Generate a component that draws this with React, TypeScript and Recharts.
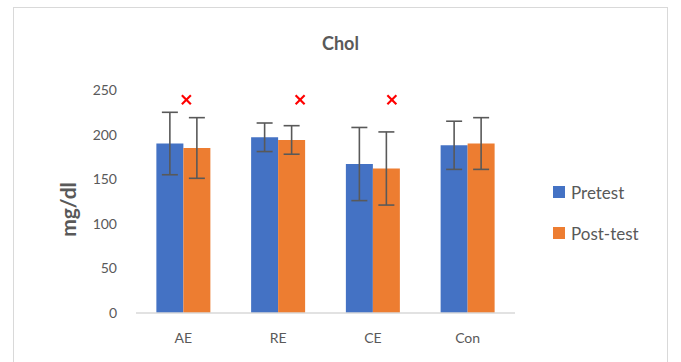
import React from 'react';
import {
  ComposedChart, Bar, ErrorBar, Scatter, XAxis, YAxis,
} from 'recharts';

const groups = ['AE', 'RE', 'CE', 'Con'];
const pretest = [190, 197, 167, 188];
const pretestSd = [35, 16, 41, 27];
const posttest = [185, 194, 162, 190];
const posttestSd = [34, 16, 41, 29];
// significance markers (null = none)
const marks = [239, 239, 239, null];
const yTicks = [0, 50, 100, 150, 200, 250];

// horizontal nudge for each marker, px
const markerNudge: Record<string, number> = { AE: 3, RE: 22, CE: 19, Con: 0 };

const data = groups.map((g, i) => ({
  group: g,
  pre: pretest[i],
  preErr: pretestSd[i],
  post: posttest[i],
  postErr: posttestSd[i],
  mark: marks[i],
}));

const FONT = 'Lato, "Open Sans", sans-serif';
const GREY = '#595959';

function Cross(props: any) {
  const { cx, cy, payload } = props;
  if (cx == null || cy == null || payload?.mark == null) return null;
  const x = cx + (markerNudge[payload.group] ?? 0);
  const s = 4.5;
  return (
    <g stroke="#ff0000" strokeWidth={2.2}>
      <line x1={x - s} y1={cy - s} x2={x + s} y2={cy + s} />
      <line x1={x - s} y1={cy + s} x2={x + s} y2={cy - s} />
    </g>
  );
}

function LegendBox() {
  const items = [
    { label: 'Pretest', color: '#4472c4' },
    { label: 'Post-test', color: '#ed7d31' },
  ];
  return (
    <div style={{ position: 'absolute', left: 553, top: 181, fontFamily: FONT }}>
      {items.map((it, i) => (
        <div key={it.label} style={{ display: 'flex', alignItems: 'center', height: 22, marginTop: i ? 19 : 0 }}>
          <span style={{ width: 12, height: 12, background: it.color, display: 'inline-block', marginRight: 6 }} />
          <span style={{ fontSize: 17, color: GREY }}>{it.label}</span>
        </div>
      ))}
    </div>
  );
}

export default function App() {
  return (
    <div style={{ position: 'absolute', left: 0, top: 0, width: 681, height: 362, background: '#fff', overflow: 'hidden' }}>
      <div style={{
        position: 'absolute', left: 13, top: 7, width: 655, height: 370,
        border: '1px solid #d9d9d9', boxSizing: 'border-box',
      }} />
      <div style={{
        position: 'absolute', left: 0, width: 681, top: 32, textAlign: 'center',
        fontFamily: FONT, fontWeight: 700, fontSize: 18, color: GREY,
      }}>
        Chol
      </div>
      <ComposedChart
        width={681}
        height={362}
        data={data}
        margin={{ top: 90, right: 166, bottom: 19, left: 76 }}
        barGap={0}
        barCategoryGap="21.5%"
        style={{ position: 'absolute', left: 0, top: 0 }}
      >
        <XAxis
          dataKey="group"
          tick={{ fill: GREY, fontSize: 14, fontFamily: FONT }}
          tickLine={false}
          axisLine={{ stroke: '#d9d9d9', strokeWidth: 1.5 }}
          tickMargin={14}
        />
        <YAxis
          width={60}
          domain={[0, 250]}
          ticks={yTicks}
          tick={{ fill: GREY, fontSize: 14, fontFamily: FONT }}
          tickLine={false}
          tickSize={0}
          axisLine={false}
          tickMargin={19}
          label={({ viewBox }: any) => {
            const cy = viewBox.y + viewBox.height / 2 + 8;
            return (
              <text
                x={67}
                y={cy}
                transform={`rotate(-90, 67, ${cy})`}
                textAnchor="middle"
                dominantBaseline="central"
                fill={GREY}
                fontSize={21}
                fontWeight={700}
                fontFamily={FONT}
              >
                mg/dl
              </text>
            );
          }}
        />
        <Bar dataKey="pre" name="Pretest" fill="#4472c4" isAnimationActive={false}>
          <ErrorBar dataKey="preErr" width={8} stroke={GREY} strokeWidth={1.6} />
        </Bar>
        <Bar dataKey="post" name="Post-test" fill="#ed7d31" isAnimationActive={false}>
          <ErrorBar dataKey="postErr" width={8} stroke={GREY} strokeWidth={1.6} />
        </Bar>
        <Scatter dataKey="mark" shape={<Cross />} legendType="none" isAnimationActive={false} />
      </ComposedChart>
      <LegendBox />
    </div>
  );
}
